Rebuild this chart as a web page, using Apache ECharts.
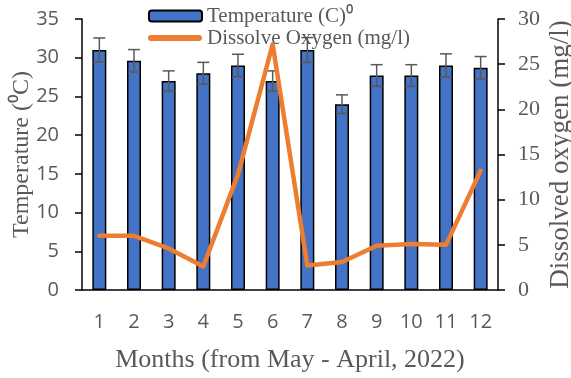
<!DOCTYPE html>
<html><head><meta charset="utf-8">
<script src="https://cdn.jsdelivr.net/npm/echarts@6/dist/echarts.min.js"></script>
<style>html,body{margin:0;padding:0;background:#fff}#c{width:571px;height:378px}</style>
</head><body><div id="c"></div>
<script>
var months = ['1','2','3','4','5','6','7','8','9','10','11','12'];
var temperature = [31.0, 29.6, 27.0, 28.0, 29.0, 27.0, 31.0, 24.0, 27.7, 27.7, 29.0, 28.7];
var tempError = [1.55, 1.45, 1.3, 1.4, 1.45, 1.3, 1.6, 1.2, 1.4, 1.4, 1.5, 1.45];
var dissolvedOxygen = [6.0, 6.0, 4.6, 2.6, 12.8, 27.2, 2.7, 3.1, 4.9, 5.1, 5.0, 13.2];

var serif = '"Liberation Serif", "Times New Roman", serif';
var sans = '"Open Sans", sans-serif';
var grey = '#595959';

var chart = echarts.init(document.getElementById('c'));
chart.setOption({
  animation: false,
  grid: {left: 82, right: 73, top: 19, bottom: 88, containLabel: false, outerBoundsMode: 'none'},
  legend: [{
    orient: 'vertical', left: 143, top: 0, itemWidth: 53, itemHeight: 11,
    textStyle: {fontFamily: serif, fontSize: 21, color: grey, lineHeight: 22},
    data: ['Temperature (C)⁰']
  }, {
    orient: 'vertical', left: 143, top: 22, itemWidth: 54, itemHeight: 6,
    textStyle: {fontFamily: serif, fontSize: 21, color: grey, lineHeight: 22},
    data: [{name: 'Dissolve Oxygen (mg/l)', icon: 'path://M3,0 H51 A3,3 0 0 1 51,6 H3 A3,3 0 0 1 3,0 Z'}]
  }],
  xAxis: {
    type: 'category', data: months,
    axisLine: {lineStyle: {color: '#000', width: 1.5}},
    axisTick: {length: 7, lineStyle: {color: '#000', width: 1.5}},
    axisLabel: {fontFamily: sans, fontSize: 20, color: grey, margin: 22},
    name: 'Months (from May - April, 2022)', nameLocation: 'middle', nameGap: 57, nameMoveOverlap: false,
    nameTextStyle: {fontFamily: serif, fontSize: 26, color: grey}
  },
  yAxis: [{
    type: 'value', min: 0, max: 35, interval: 5,
    axisLine: {show: true, lineStyle: {color: '#000', width: 1.5}},
    axisTick: {show: true, length: 7, lineStyle: {color: '#000', width: 1.5}},
    splitLine: {show: false},
    axisLabel: {fontFamily: sans, fontSize: 20, color: grey, margin: 23},
    name: 'Temperature (⁰C)', nameLocation: 'middle', nameGap: 48, nameMoveOverlap: false,
    nameTextStyle: {fontFamily: serif, fontSize: 24, color: grey}
  }, {
    type: 'value', min: 0, max: 30, interval: 5, position: 'right',
    axisLine: {show: true, lineStyle: {color: '#000', width: 1.5}},
    axisTick: {show: true, length: 7, lineStyle: {color: '#000', width: 1.5}},
    splitLine: {show: false},
    axisLabel: {fontFamily: serif, fontSize: 22, color: grey, margin: 20},
    name: 'Dissolved oxygen (mg/l)', nameLocation: 'middle', nameGap: 49, nameRotate: 90, nameMoveOverlap: false,
    nameTextStyle: {fontFamily: serif, fontSize: 27, color: grey}
  }],
  series: [{
    name: 'Temperature (C)⁰', type: 'bar', data: temperature, barWidth: 14, yAxisIndex: 0,
    itemStyle: {color: '#4472C4', borderColor: '#000', borderWidth: 1.5}, z: 2
  }, {
    name: 'err', type: 'custom', yAxisIndex: 0, z: 3,
    data: temperature.map(function (v, i) { return [i, v - tempError[i], v + tempError[i]]; }),
    renderItem: function (params, api) {
      var lo = api.coord([api.value(0), api.value(1)]);
      var hi = api.coord([api.value(0), api.value(2)]);
      var hw = 6;
      var st = {stroke: grey, lineWidth: 1.5};
      return {type: 'group', children: [
        {type: 'line', shape: {x1: hi[0], y1: hi[1], x2: lo[0], y2: lo[1]}, style: st},
        {type: 'line', shape: {x1: hi[0] - hw, y1: hi[1], x2: hi[0] + hw, y2: hi[1]}, style: st},
        {type: 'line', shape: {x1: lo[0] - hw, y1: lo[1], x2: lo[0] + hw, y2: lo[1]}, style: st}
      ]};
    }
  }, {
    name: 'Dissolve Oxygen (mg/l)', type: 'line', data: dissolvedOxygen, yAxisIndex: 1,
    showSymbol: false, symbol: 'none', z: 4,
    lineStyle: {color: '#ED7D31', width: 4.5, cap: 'round', join: 'round'},
    itemStyle: {color: '#ED7D31'}
  }]
});
</script></body></html>
